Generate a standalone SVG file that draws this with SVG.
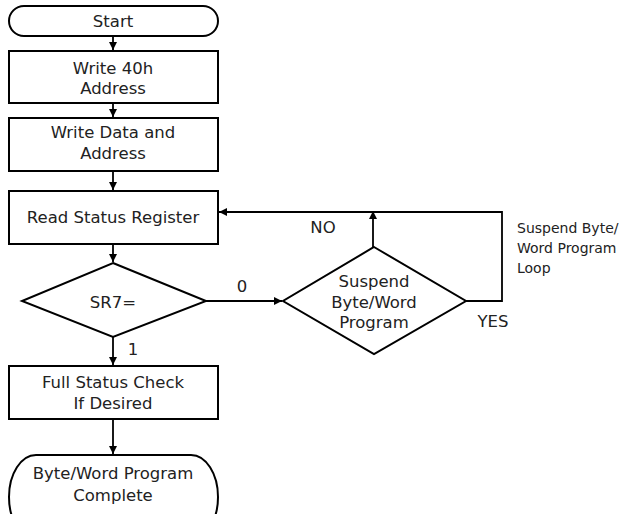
<svg xmlns="http://www.w3.org/2000/svg" width="623" height="514" viewBox="0 0 623 514">
<defs>
<marker id="ah" markerWidth="8" markerHeight="8" refX="8" refY="4" orient="auto" markerUnits="userSpaceOnUse">
<path d="M0,0 L8,4 L0,8 Z" fill="#000"/>
</marker>
<style>
.s{fill:#fff;stroke:#000;stroke-width:2}
.c{fill:none;stroke:#000;stroke-width:1.8}
text{font-family:"DejaVu Sans",sans-serif;font-size:16.5px;fill:#222;text-anchor:middle}
.sm{font-size:14px;text-anchor:start}
</style>
</defs>
<rect width="623" height="514" fill="#fff"/>
<g id="connectors">
<path class="c" d="M113,36 V50" marker-end="url(#ah)"/>
<path class="c" d="M113,103 V117" marker-end="url(#ah)"/>
<path class="c" d="M113,171 V190" marker-end="url(#ah)"/>
<path class="c" d="M113,244 V262" marker-end="url(#ah)"/>
<path class="c" d="M206,301 H282" marker-end="url(#ah)"/>
<path class="c" d="M373,247 V211" marker-end="url(#ah)"/>
<path class="c" d="M466,301 H502 V212 H219" marker-end="url(#ah)"/>
<path class="c" d="M113,337 V365" marker-end="url(#ah)"/>
<path class="c" d="M113,419 V454" marker-end="url(#ah)"/>
<text x="242" y="292">0</text>
<text x="323" y="233">NO</text>
<text x="493" y="327">YES</text>
<text x="133" y="355">1</text>
<text class="sm" x="517" y="233">Suspend Byte/</text>
<text class="sm" x="517" y="253">Word Program</text>
<text class="sm" x="517" y="273">Loop</text>
</g>
<g id="start">
<rect class="s" x="9" y="6" width="209" height="30" rx="15"/>
<text x="113" y="27">Start</text>
</g>
<g id="write40">
<rect class="s" x="9" y="51" width="209" height="52"/>
<text x="113" y="74">Write 40h</text>
<text x="113" y="94">Address</text>
</g>
<g id="writedata">
<rect class="s" x="9" y="118" width="209" height="53"/>
<text x="113" y="138">Write Data and</text>
<text x="113" y="159">Address</text>
</g>
<g id="readstatus">
<rect class="s" x="9" y="191" width="209" height="53"/>
<text x="113" y="223">Read Status Register</text>
</g>
<g id="sr7">
<path class="s" d="M113,263 L206,301 L113,337 L22,301 Z"/>
<text x="113" y="308">SR7=</text>
</g>
<g id="suspend">
<path class="s" d="M374,247 L466,301 L374,354 L283,301 Z"/>
<text x="374" y="287">Suspend</text>
<text x="374" y="308">Byte/Word</text>
<text x="374" y="328">Program</text>
</g>
<g id="fullstatus">
<rect class="s" x="9" y="366" width="209" height="53"/>
<text x="113" y="388">Full Status Check</text>
<text x="113" y="409">If Desired</text>
</g>
<g id="complete">
<rect class="s" x="9" y="455" width="209" height="84" rx="27" ry="42"/>
<text x="113" y="479">Byte/Word  Program</text>
<text x="113" y="501">Complete</text>
</g>
</svg>
